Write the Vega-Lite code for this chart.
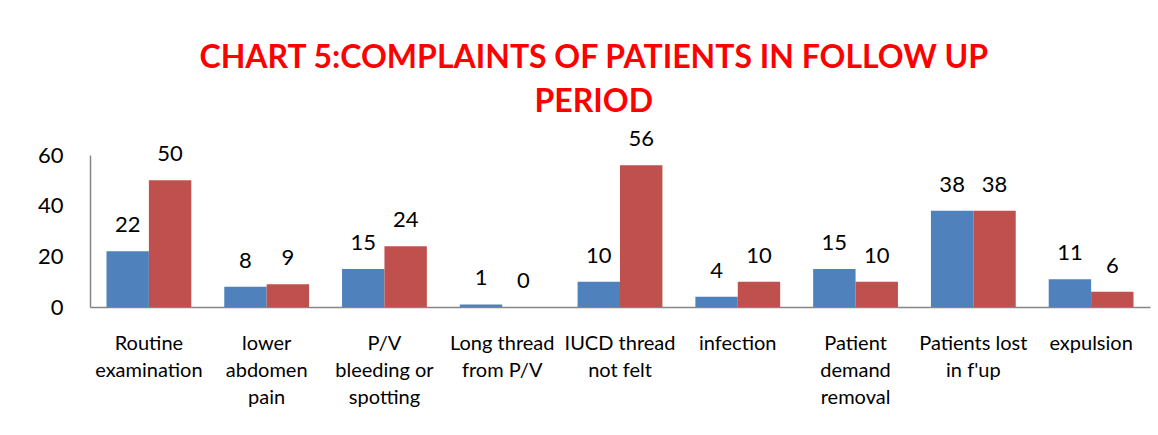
{
  "$schema": "https://vega.github.io/schema/vega-lite/v6.json",
  "autosize": "none",
  "width": 1060,
  "height": 152,
  "padding": {"left": 90, "top": 155, "right": 8, "bottom": 128},
  "background": "white",
  "title": {
    "text": ["CHART 5:COMPLAINTS OF PATIENTS IN FOLLOW UP", "PERIOD"],
    "font": "Lato",
    "fontSize": 32,
    "fontWeight": "bold",
    "color": "#FF0000",
    "lineHeight": 44,
    "anchor": "middle",
    "frame": "bounds",
    "offset": 9
  },
  "data": {
    "values": [
      {"complaint": "Routine\nexamination", "series": "Series1", "count": 22},
      {"complaint": "Routine\nexamination", "series": "Series2", "count": 50},
      {"complaint": "lower\nabdomen\npain", "series": "Series1", "count": 8},
      {"complaint": "lower\nabdomen\npain", "series": "Series2", "count": 9},
      {"complaint": "P/V\nbleeding or\nspotting", "series": "Series1", "count": 15},
      {"complaint": "P/V\nbleeding or\nspotting", "series": "Series2", "count": 24},
      {"complaint": "Long thread\nfrom P/V", "series": "Series1", "count": 1},
      {"complaint": "Long thread\nfrom P/V", "series": "Series2", "count": 0},
      {"complaint": "IUCD thread\nnot felt", "series": "Series1", "count": 10},
      {"complaint": "IUCD thread\nnot felt", "series": "Series2", "count": 56},
      {"complaint": "infection", "series": "Series1", "count": 4},
      {"complaint": "infection", "series": "Series2", "count": 10},
      {"complaint": "Patient\ndemand\nremoval", "series": "Series1", "count": 15},
      {"complaint": "Patient\ndemand\nremoval", "series": "Series2", "count": 10},
      {"complaint": "Patients lost\nin f'up", "series": "Series1", "count": 38},
      {"complaint": "Patients lost\nin f'up", "series": "Series2", "count": 38},
      {"complaint": "expulsion", "series": "Series1", "count": 11},
      {"complaint": "expulsion", "series": "Series2", "count": 6}
    ]
  },
  "encoding": {
    "x": {
      "field": "complaint",
      "type": "nominal",
      "sort": null,
      "scale": {"paddingInner": 0.28, "paddingOuter": 0.14},
      "axis": {
        "title": null,
        "labelAngle": 0,
        "labelExpr": "split(datum.label, '\\n')",
        "labelFont": "Lato",
        "labelFontSize": 20,
        "labelLineHeight": 27,
        "labelColor": "#000000",
        "labelPadding": 26,
        "labelBaseline": "top",
        "labelLimit": 200,
        "ticks": false,
        "domainColor": "#868686",
        "domainWidth": 1.5
      }
    },
    "xOffset": {"field": "series", "type": "nominal"},
    "y": {
      "field": "count",
      "type": "quantitative",
      "scale": {"domain": [0, 60], "nice": false},
      "axis": {
        "title": null,
        "values": [0, 20, 40, 60],
        "grid": false,
        "ticks": false,
        "labelFont": "Lato",
        "labelFontSize": 22,
        "labelColor": "#000000",
        "labelPadding": 27,
        "domainColor": "#868686",
        "domainWidth": 1.5
      }
    }
  },
  "layer": [
    {
      "mark": {"type": "bar"},
      "encoding": {
        "color": {
          "field": "series",
          "type": "nominal",
          "scale": {"domain": ["Series1", "Series2"], "range": ["#4F81BD", "#C0504D"]},
          "legend": null
        }
      }
    },
    {
      "mark": {"type": "text", "font": "Lato", "fontSize": 22, "color": "#000000", "baseline": "bottom", "dy": -14},
      "encoding": {
        "text": {"field": "count", "type": "quantitative"}
      }
    }
  ],
  "config": {
    "view": {"stroke": null}
  }
}
